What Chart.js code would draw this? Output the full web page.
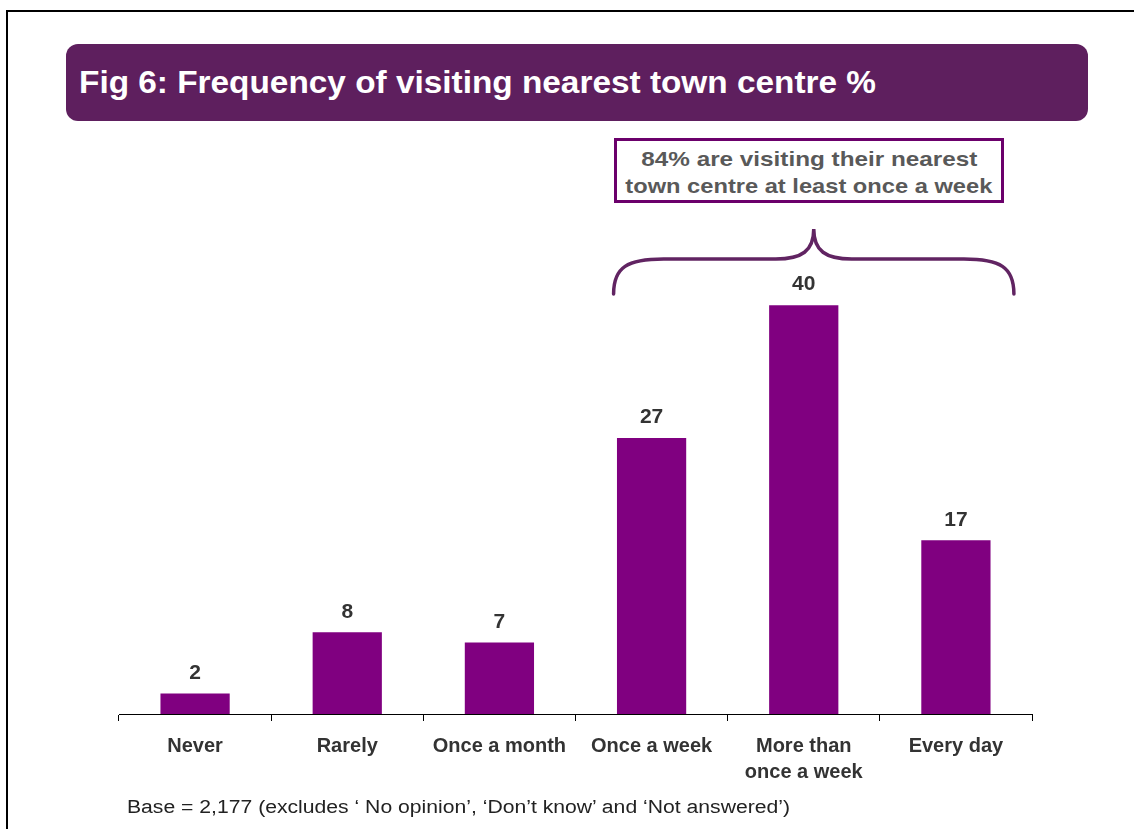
<!DOCTYPE html>
<html>
<head>
<meta charset="utf-8">
<script src="https://cdn.jsdelivr.net/npm/chart.js@4.4.0/dist/chart.umd.min.js"></script>
<style>
  body { margin: 0; background: #fff; font-family: "Liberation Sans", Arial, sans-serif; }
  #page { position: relative; width: 1134px; height: 829px; overflow: hidden; }
  #frame { position: absolute; left: 6px; top: 10px; width: 1200px; height: 900px;
           border-left: 2px solid #000; border-top: 2px solid #000; }
  #title { position: absolute; left: 66px; top: 44px; width: 1022px; height: 77px;
           background: #5e1f5e; border-radius: 12px; color: #fff; font-weight: bold;
           font-size: 31px; line-height: 77px; padding-left: 13px; box-sizing: border-box; }
  #note { position: absolute; left: 614px; top: 138px; width: 390px; height: 65px;
          border: 3px solid #6b006b; box-sizing: border-box; color: #595959; font-weight: bold;
          font-size: 21px; line-height: 27px; text-align: center; padding-top: 4px; }
  #base { position: absolute; left: 127px; top: 797px; font-size: 18px; color: #222; }
  .fit { display: inline-block; white-space: nowrap; transform-origin: left center; }
  #note .fit { transform-origin: center center; }
  #chart { position: absolute; left: 0; top: 0; }
</style>
</head>
<body>
<div id="page">
  <div id="frame"></div>
  <div id="title"><span class="fit" data-w="797">Fig 6: Frequency of visiting nearest town centre %</span></div>
  <div id="note"><span class="fit" data-w="336">84% are visiting their nearest</span><br><span class="fit" data-w="367">town centre at least once a week</span></div>
  <canvas id="chart" width="1134" height="829"></canvas>
  <div id="base"><span class="fit" data-w="663">Base = 2,177 (excludes ‘ No opinion’, ‘Don’t know’ and ‘Not answered’)</span></div>
</div>
<script>
// 数据
const categories = ['Never', 'Rarely', 'Once a month', 'Once a week', ['More than', 'once a week'], 'Every day'];
const values = [2, 8, 7, 27, 40, 17];

// 文字横向拉伸到原图宽度
document.querySelectorAll('.fit').forEach(el => {
  const w = el.getBoundingClientRect().width;
  el.style.transform = `scaleX(${el.dataset.w / w})`;
});

// 柱顶数值 + 大括号
const labelsPlugin = {
  id: 'extras',
  afterDatasetsDraw(chart) {
    const ctx = chart.ctx;
    const meta = chart.getDatasetMeta(0);
    ctx.save();
    ctx.fillStyle = '#333';
    ctx.font = 'bold 21px "Liberation Sans", Arial, sans-serif';
    ctx.textAlign = 'center';
    ctx.textBaseline = 'bottom';
    meta.data.forEach((bar, i) => {
      ctx.fillText(values[i], bar.x, bar.y - 10);
    });

    // 大括号：从 Once a week 到 Every day
    const xs = chart.scales.x;
    const x0 = xs.getPixelForValue(3) - 38;
    const x1 = xs.getPixelForValue(5) + 58;
    const xc = (x0 + x1) / 2;
    const yb = 294, ym = 259, yt = 229;
    ctx.strokeStyle = '#612462';
    ctx.lineWidth = 3.5;
    ctx.lineCap = 'round';
    ctx.beginPath();
    ctx.moveTo(x0, yb);
    ctx.bezierCurveTo(x0, ym + 8, x0 + 14, ym, x0 + 50, ym);
    ctx.lineTo(xc - 38, ym);
    ctx.bezierCurveTo(xc - 12, ym, xc, ym - 8, xc, yt);
    ctx.bezierCurveTo(xc, ym - 8, xc + 12, ym, xc + 38, ym);
    ctx.lineTo(x1 - 50, ym);
    ctx.bezierCurveTo(x1 - 14, ym, x1, ym + 8, x1, yb);
    ctx.stroke();
    ctx.restore();
  }
};

new Chart(document.getElementById('chart'), {
  type: 'bar',
  data: {
    labels: categories,
    datasets: [{
      data: values,
      backgroundColor: '#800080',
      categoryPercentage: 1,
      barPercentage: 0.455
    }]
  },
  options: {
    responsive: false,
    animation: false,
    layout: { padding: { left: 119, right: 102, top: 203, bottom: 43 } },
    plugins: { legend: { display: false }, tooltip: { enabled: false } },
    scales: {
      x: {
        grid: { offset: true, drawOnChartArea: false, tickLength: 7, color: '#000' },
        border: { color: '#000' },
        ticks: {
          color: '#333',
          padding: 12,
          maxRotation: 0,
          autoSkip: false,
          font: { family: '"Liberation Sans", Arial, sans-serif', size: 20, weight: 'bold', lineHeight: 1.3 }
        },
        afterFit(s) { s.height = 72; }
      },
      y: { display: false, min: 0, max: 50 }
    }
  },
  plugins: [labelsPlugin]
});
</script>
</body>
</html>
